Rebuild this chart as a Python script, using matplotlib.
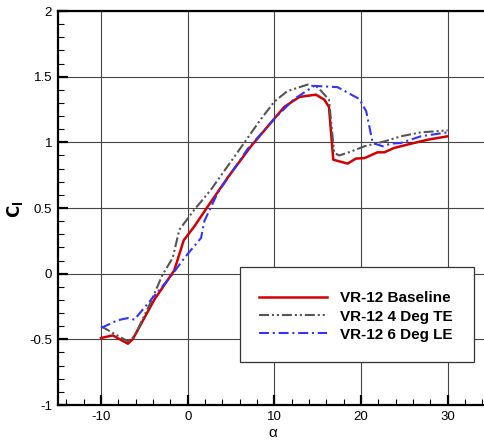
import matplotlib
matplotlib.use("Agg")
import matplotlib.pyplot as plt
from matplotlib.patches import Rectangle
from matplotlib.ticker import MultipleLocator

plt.rcParams['font.family'] = ['Liberation Sans', 'DejaVu Sans']

# Data
base_alpha = [-10, -8.65, -6.9, -6.35, -3.85, -1.55, -0.46, 0.77, 2.3, 4.6, 7.3, 10.0, 11.15,
              12.9, 14.8, 15.76, 16.3, 16.8, 17.5, 18.46, 19.4, 20.4, 21.9, 22.7, 23.8, 25.8, 27.7, 30]
base_cl = [-0.49, -0.47, -0.533, -0.50, -0.198, 0.025, 0.254, 0.36, 0.51, 0.73, 0.97, 1.18, 1.27,
           1.346, 1.363, 1.325, 1.27, 0.868, 0.855, 0.838, 0.876, 0.88, 0.924, 0.924, 0.957, 0.99, 1.02, 1.046]

te_alpha = [-10, -8.27, -6.9, -6.15, -4.4, -2.9, -1.73, -0.96, 0.77, 2.69, 6.35, 8.46, 10.0, 11.5,
            13.85, 15.0, 16.3, 16.9, 17.5, 18.85, 20.4, 22.7, 24.6, 26.9, 30]
te_cl = [-0.40, -0.465, -0.515, -0.477, -0.236, -0.008, 0.12, 0.335, 0.487, 0.64, 0.98, 1.178, 1.31, 1.39,
         1.44, 1.42, 1.325, 0.92, 0.90, 0.93, 0.97, 1.007, 1.046, 1.076, 1.091]

le_alpha = [-10, -8.1, -6.9, -6.15, -4.23, -1.93, -0.38, 1.54, 1.92, 3.46, 6.92, 10.0, 12.3, 14.6,
            17.3, 19.8, 20.6, 21.35, 22.5, 23.4, 24.6, 26.9, 30]
le_cl = [-0.414, -0.355, -0.338, -0.35, -0.198, -0.02, 0.12, 0.272, 0.40, 0.615, 0.95, 1.18, 1.33, 1.43,
         1.42, 1.33, 1.236, 0.995, 0.97, 0.99, 0.995, 1.046, 1.076]

labels = ["VR-12 Baseline", "VR-12 4 Deg TE", "VR-12 6 Deg LE"]

fig = plt.figure(figsize=(4.85, 4.44), dpi=100)
ax = fig.add_axes([57.7 / 485, 39 / 444, 433.3 / 485, 394 / 444])

ax.set_xlim(-15, 35)
ax.set_ylim(-1, 2)

ax.xaxis.set_major_locator(MultipleLocator(10))
ax.xaxis.set_minor_locator(MultipleLocator(2))
ax.yaxis.set_major_locator(MultipleLocator(0.5))
ax.yaxis.set_minor_locator(MultipleLocator(0.1))
ax.set_yticks([-1, -0.5, 0, 0.5, 1, 1.5, 2])
ax.set_yticklabels(["-1", "-0.5", "0", "0.5", "1", "1.5", "2"])
ax.set_xticks([-10, 0, 10, 20, 30])
ax.set_xticklabels(["-10", "0", "10", "20", "30"])

ax.grid(True, which='major', color='#444444', linewidth=0.8)
ax.set_axisbelow(True)

ax.tick_params(which='major', direction='in', length=7, width=1.6, labelsize=9.5,
               top=False, right=False, pad=4)
ax.tick_params(which='minor', direction='in', length=4, width=0.8, top=False, right=False)
for s in ['left', 'bottom', 'top', 'right']:
    ax.spines[s].set_linewidth(1.6)

l1, = ax.plot(base_alpha, base_cl, color='#d40000', lw=1.8, label=labels[0])
l2, = ax.plot(te_alpha, te_cl, color='#555555', lw=1.5,
              linestyle=(0, (4.8, 1.4, 1, 1.4, 1, 1.4)), label=labels[1])
l3, = ax.plot(le_alpha, le_cl, color='#3333ff', lw=1.5,
              linestyle=(0, (4.8, 1.8, 1, 1.8)), label=labels[2])

# legend box
x0 = (240 - 57.7) / 433.3
x1 = (474 - 57.7) / 433.3
y0 = (405 - 362) / 394
y1 = (405 - 267) / 394
ax.add_patch(Rectangle((x0, y0), x1 - x0, y1 - y0, transform=ax.transAxes,
                       facecolor='white', edgecolor='#333333', lw=0.9, zorder=5))
leg = ax.legend(handles=[l1, l2, l3], loc='center',
                bbox_to_anchor=((356 - 57.7) / 433.3, (405 - 316.5) / 394),
                frameon=False, handlelength=4.45, handletextpad=0.85,
                labelspacing=0.28, prop={'weight': 'bold', 'size': 11})
leg.set_zorder(6)

fig.text(273 / 485, 1 - 433 / 444, "α", ha='center', va='center', fontsize=11)
fig.text(15 / 485, 1 - 209 / 444, r"$\mathbf{C_l}$", rotation=90, ha='center', va='center',
         fontsize=12)

fig.savefig("out.png", dpi=100)
